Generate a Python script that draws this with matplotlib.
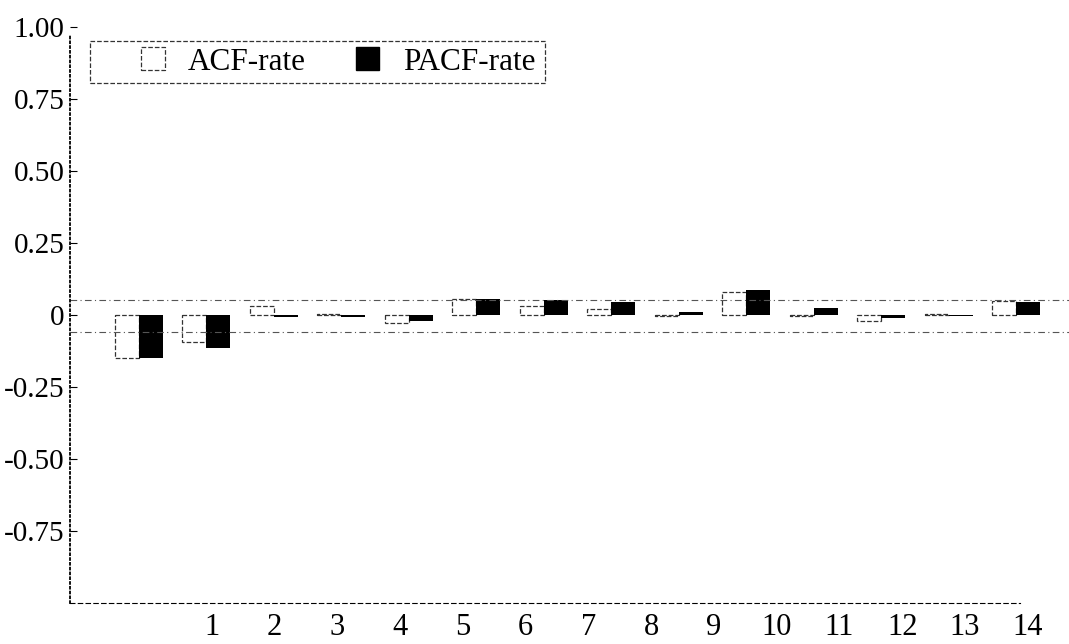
import matplotlib
matplotlib.use('Agg')
import matplotlib.pyplot as plt
from matplotlib.patches import Patch, Rectangle
import numpy as np

plt.rcParams['font.family'] = ['Liberation Serif', 'DejaVu Serif']

lags = np.arange(1, 15)
acf_rate = [-0.150, -0.094, 0.030, 0.005, -0.027, 0.055, 0.030, 0.020,
            -0.005, 0.080, -0.005, -0.020, 0.005, 0.050]
pacf_rate = [-0.150, -0.115, -0.008, -0.008, -0.020, 0.055, 0.052, 0.045,
             0.010, 0.087, 0.025, -0.010, -0.005, 0.045]
conf_upper = 0.052
conf_lower = -0.058
x_labels = [str(i) for i in lags]
y_ticks = [-0.75, -0.50, -0.25, 0, 0.25, 0.50, 0.75, 1.00]
y_labels = ['-0.75', '-0.50', '-0.25', '0', '0.25', '0.50', '0.75', '1.00']

fig = plt.figure(figsize=(10.69, 6.44), dpi=100)
ax = fig.add_axes([70 / 1069, 1 - 603 / 644, 1 - 70 / 1069, 576 / 644])

w = 0.355
ax.bar(lags - w / 2, acf_rate, width=w, facecolor='white', edgecolor='#333333',
       linestyle='--', linewidth=0.9)
ax.bar(lags + w / 2, pacf_rate, width=w, color='black')

ax.axhline(conf_upper, color='#555555', linewidth=0.8, linestyle=(0, (6, 3, 1, 3)))
ax.axhline(conf_lower, color='#555555', linewidth=0.8, linestyle=(0, (6, 3, 1, 3)))

ax.set_xlim(-0.02, 14.78)
ax.set_ylim(-1, 1)

# labels sit a little right of the bars in the scanned original
ax.set_xticks(2.08 + (lags - 1) * 0.93)
ax.set_xticklabels(x_labels, fontsize=22)
ax.tick_params(axis='x', length=0, pad=7)
ax.set_yticks(y_ticks)
ax.set_yticklabels(y_labels, fontsize=21)
ax.tick_params(axis='y', direction='in', length=5, width=0.8, pad=4)

for s in ['top', 'right']:
    ax.spines[s].set_visible(False)
ax.spines['left'].set_linestyle(':')
ax.spines['left'].set_linewidth(1.3)
ax.spines['left'].set_bounds(-1, 0.97)
ax.spines['bottom'].set_linestyle((0, (4, 3)))
ax.spines['bottom'].set_linewidth(0.8)
ax.spines['bottom'].set_bounds(-0.02, 14.05)

# legend box
fig.patches.append(Rectangle((90 / 1069, 1 - 83 / 644), 455 / 1069, 42 / 644,
                             transform=fig.transFigure, fill=False,
                             edgecolor='#333333', linestyle='--', linewidth=0.9))
handles = [Patch(facecolor='white', edgecolor='#333333', linestyle='--', linewidth=0.9),
           Patch(facecolor='black', edgecolor='black')]
fig.legend(handles, ['ACF-rate', 'PACF-rate'], loc='center left',
           bbox_to_anchor=(113 / 1069, 1 - 62 / 644), ncol=2, frameon=False,
           fontsize=22.5, handlelength=0.75, handleheight=0.75, handletextpad=0.75,
           columnspacing=1.6)

fig.savefig('out.png', dpi=100)
